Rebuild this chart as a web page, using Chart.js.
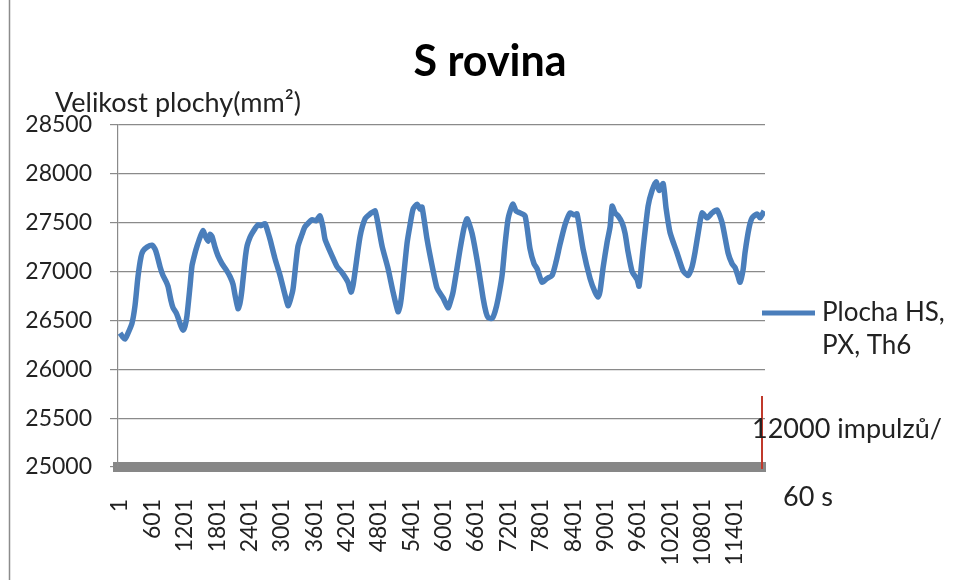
<!DOCTYPE html>
<html>
<head>
<meta charset="utf-8">
<script src="https://cdn.jsdelivr.net/npm/chart.js@4.4.1/dist/chart.umd.min.js"></script>
<style>
  html, body { margin: 0; padding: 0; background: #fff; }
  #wrap { width: 957px; height: 580px; position: relative; }
</style>
</head>
<body>
<div id="wrap"><canvas id="chart" width="957" height="580"></canvas></div>
<script>
var chartTitle = 'S rovina';
var yTitle = 'Velikost plochy(mm²)';
var seriesName = 'Plocha HS, PX, Th6';
var xNote = ['12000 impulzů/', '60 s'];

var xTickLabels = [1, 601, 1201, 1801, 2401, 3001, 3601, 4201, 4801, 5401, 6001, 6601,
                   7201, 7801, 8401, 9001, 9601, 10201, 10801, 11401];

var sampleIdx = [1, 38, 94, 150, 223, 279, 335, 390, 427, 502, 594, 650, 687, 743, 798, 854, 891, 947, 984,
  1039, 1076, 1132, 1169, 1206, 1243, 1299, 1336, 1392, 1429, 1484, 1540, 1577, 1633, 1670, 1707, 1762, 1818,
  1892, 1967, 2040, 2096, 2133, 2189, 2226, 2263, 2319, 2356, 2411, 2448, 2504, 2560, 2615, 2690, 2745, 2782,
  2875, 2968, 3060, 3116, 3153, 3208, 3264, 3301, 3375, 3431, 3561, 3635, 3709, 3765, 3802, 3932, 4024, 4117,
  4228, 4284, 4321, 4358, 4451, 4543, 4636, 4692, 4729, 4766, 4859, 4970, 5063, 5155, 5193, 5230, 5322, 5378,
  5434, 5508, 5563, 5600, 5693, 5786, 5878, 5990, 6082, 6119, 6175, 6305, 6379, 6435, 6527, 6638, 6731, 6787,
  6824, 6898, 6953, 7009, 7083, 7139, 7195, 7250, 7287, 7343, 7417, 7510, 7602, 7676, 7732, 7825, 7918, 8010,
  8084, 8158, 8251, 8344, 8418, 8473, 8585, 8714, 8807, 8863, 8900, 8956, 9030, 9086, 9123, 9178, 9234, 9308,
  9364, 9419, 9494, 9586, 9623, 9697, 9790, 9864, 9938, 9994, 10068, 10123, 10197, 10327, 10438, 10531, 10605,
  10661, 10735, 10791, 10883, 10976, 11069, 11162, 11273, 11347, 11403, 11458, 11495, 11551, 11588, 11662,
  11718, 11811, 11866, 11940];
var areaValues = [26370, 26340, 26310, 26370, 26470, 26650, 26950, 27150, 27210, 27250, 27270, 27230, 27170,
  27050, 26960, 26900, 26850, 26700, 26630, 26580, 26530, 26440, 26400, 26440, 26550, 26850, 27060, 27190,
  27260, 27350, 27420, 27370, 27310, 27380, 27360, 27250, 27160, 27080, 27020, 26950, 26870, 26760, 26620,
  26680, 26820, 27120, 27260, 27350, 27390, 27440, 27480, 27470, 27490, 27400, 27330, 27130, 26960, 26760,
  26650, 26700, 26820, 27100, 27260, 27380, 27460, 27530, 27520, 27570, 27450, 27330, 27160, 27050, 26990,
  26890, 26790, 26860, 27000, 27360, 27540, 27590, 27610, 27620, 27540, 27260, 27030, 26790, 26590, 26650,
  26800, 27290, 27480, 27640, 27690, 27640, 27660, 27330, 27060, 26830, 26730, 26630, 26680, 26790, 27230,
  27450, 27540, 27390, 27060, 26730, 26580, 26530, 26520, 26590, 26720, 26960, 27280, 27540, 27650, 27690,
  27620, 27600, 27570, 27230, 27080, 27030, 26890, 26930, 26960, 27100, 27280, 27480, 27600, 27580, 27590,
  27230, 26930, 26790, 26740, 26800, 27040, 27300, 27460, 27670, 27600, 27570, 27500, 27390, 27200, 27000,
  26920, 26850, 27230, 27670, 27830, 27920, 27830, 27900, 27650, 27400, 27190, 27010, 26960, 27050, 27200,
  27450, 27600, 27550, 27600, 27630, 27500, 27190, 27080, 27040, 26950, 26890, 27020, 27200, 27450, 27550,
  27590, 27550, 27620];

var FONT = 'Lato, "Open Sans", sans-serif';
var lineColor = '#4a7ebb';

var points = [];
for (var i = 0; i < sampleIdx.length; i++) {
  points.push({ x: sampleIdx[i], y: areaValues[i] });
}

var extras = {
  id: 'extras',
  afterDraw: function(chart) {
    var ctx = chart.ctx;
    var area = chart.chartArea;
    ctx.save();
    // frame line on the left
    ctx.strokeStyle = '#8c8c8c';
    ctx.lineWidth = 1.5;
    ctx.beginPath();
    ctx.moveTo(9.5, 0);
    ctx.lineTo(9.5, 580);
    ctx.stroke();

    // title
    ctx.fillStyle = '#000';
    ctx.font = 'bold 43px ' + FONT;
    ctx.textAlign = 'center';
    ctx.textBaseline = 'middle';
    ctx.fillText(chartTitle, 490, 62);

    // y axis title, written flat above the axis
    ctx.fillStyle = '#222';
    ctx.font = '27px ' + FONT;
    ctx.textAlign = 'left';
    ctx.fillText(yTitle, 55, 103);

    // legend
    var ly = 313;
    ctx.strokeStyle = lineColor;
    ctx.lineWidth = 5;
    ctx.beginPath();
    ctx.moveTo(area.right - 3, ly);
    ctx.lineTo(area.right + 50, ly);
    ctx.stroke();
    ctx.fillStyle = '#222';
    ctx.font = '26px ' + FONT;
    var parts = chart.data.datasets[0].label.split(', ');
    ctx.fillText(parts[0] + ',', area.right + 57, ly);
    ctx.fillText(parts.slice(1).join(', '), area.right + 57, ly + 33);

    // red marker and note at the end of the axis
    var rx = area.right - 3;
    ctx.strokeStyle = '#c0392b';
    ctx.lineWidth = 2;
    ctx.beginPath();
    ctx.moveTo(rx, 396);
    ctx.lineTo(rx, area.bottom + 2);
    ctx.stroke();
    ctx.fillStyle = '#222';
    ctx.font = '27px ' + FONT;
    ctx.fillText(xNote[0], rx - 10, 429);
    ctx.fillText(xNote[1], rx + 21, 497);
    ctx.restore();
  }
};

new Chart(document.getElementById('chart'), {
  type: 'line',
  data: {
    datasets: [{
      label: seriesName,
      data: points,
      borderColor: lineColor,
      backgroundColor: lineColor,
      borderWidth: 5.5,
      pointRadius: 0,
      tension: 0.2,
      fill: false
    }]
  },
  options: {
    responsive: false,
    animation: false,
    layout: { padding: { left: 10, right: 192, top: 125, bottom: 0 } },
    plugins: {
      legend: { display: false },
      tooltip: { enabled: false },
      title: { display: false }
    },
    scales: {
      x: {
        type: 'linear',
        min: -36,
        max: 11957,
        afterFit: function(s) { s.height = 113; },
        afterBuildTicks: function(s) {
          s.ticks = xTickLabels.map(function(v) { return { value: v }; });
        },
        grid: { display: false },
        border: { display: true, color: '#878787', width: 10 },
        ticks: {
          autoSkip: false,
          maxRotation: 90,
          minRotation: 90,
          padding: 24,
          color: '#222',
          font: { family: FONT, size: 23 },
          callback: function(v) { return String(v); }
        }
      },
      y: {
        min: 25000,
        max: 28500,
        afterFit: function(s) { s.width = 108; },
        grid: { color: '#8a8a8a', lineWidth: 1.2, tickLength: 8 },
        border: { display: true, color: '#8a8a8a', width: 1.2 },
        ticks: {
          stepSize: 500,
          padding: 18,
          color: '#222',
          font: { family: FONT, size: 23 },
          callback: function(v) { return String(v); }
        }
      }
    }
  },
  plugins: [extras]
});
</script>
</body>
</html>
